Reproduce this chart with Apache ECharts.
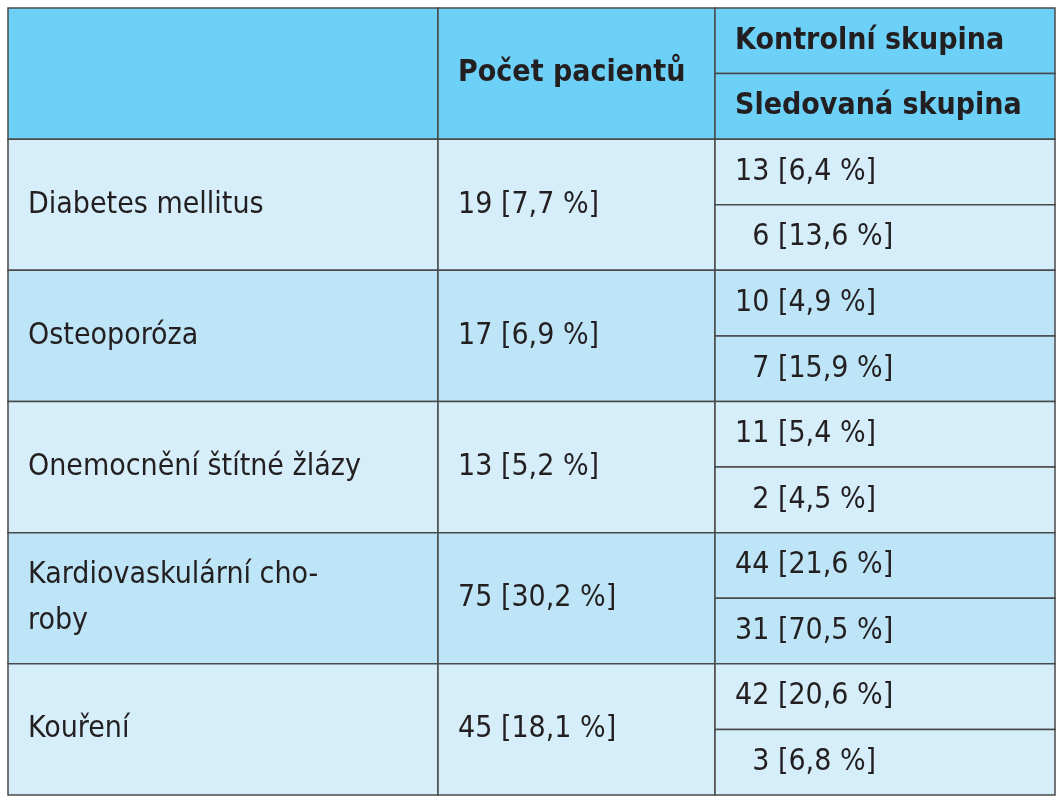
<!DOCTYPE html>
<html><head><meta charset="utf-8">
<script src="https://cdn.jsdelivr.net/npm/echarts@6/dist/echarts.min.js"></script>
<style>html,body{margin:0;padding:0;background:#fff}#c{width:1062px;height:800px}</style>
</head><body><div id="c"></div>
<script>
// Data
const headers = ["", "Počet pacientů", "Kontrolní skupina", "Sledovaná skupina"];
const categories = ["Diabetes mellitus", "Osteoporóza", "Onemocnění štítné žlázy", "Kardiovaskulární cho-\nroby", "Kouření"];
const totals = ["19 [7,7 %]", "17 [6,9 %]", "13 [5,2 %]", "75 [30,2 %]", "45 [18,1 %]"];
const control = ["13 [6,4 %]", "10 [4,9 %]", "11 [5,4 %]", "44 [21,6 %]", "42 [20,6 %]"];
const followed = ["\u20076 [13,6 %]", "\u20077 [15,9 %]", "\u20072 [4,5 %]", "31 [70,5 %]", "\u20073 [6,8 %]"];

// Layout (column edges in axis units, rows in half-row units)
const colEdges = [0, 430, 707, 1047];
const headerFill = "#6dd0f7";
const bodyFills = ["#d5eefa", "#bde5f7"];
const lineColor = "#4a4a4a";
const font = '"Liberation Sans Narrow","DejaVu Sans Condensed","Roboto",sans-serif';

const cells = []; // [c0, c1, r0, r1, text, fill, bold]
cells.push([0, 1, 0, 2, headers[0], headerFill, 1]);
cells.push([1, 2, 0, 2, headers[1], headerFill, 1]);
cells.push([2, 3, 0, 1, headers[2], headerFill, 1]);
cells.push([2, 3, 1, 2, headers[3], headerFill, 1]);
categories.forEach((c, i) => {
  const r = 2 + i * 2, f = bodyFills[i % 2];
  cells.push([0, 1, r, r + 2, c, f, 0]);
  cells.push([1, 2, r, r + 2, totals[i], f, 0]);
  cells.push([2, 3, r, r + 1, control[i], f, 0]);
  cells.push([2, 3, r + 1, r + 2, followed[i], f, 0]);
});

const chart = echarts.init(document.getElementById('c'), null, {renderer: 'canvas'});
chart.setOption({
  animation: false,
  grid: {left: 8, right: 7, top: 8, bottom: 5},
  xAxis: {type: 'value', min: 0, max: colEdges[3], show: false},
  yAxis: {type: 'value', min: 0, max: 12, inverse: true, show: false},
  series: [{
    type: 'custom',
    data: cells,
    renderItem: function (params, api) {
      const c0 = api.value(0), c1 = api.value(1), r0 = api.value(2), r1 = api.value(3);
      const d = cells[params.dataIndex];
      const p0 = api.coord([colEdges[c0], r0]);
      const p1 = api.coord([colEdges[c1], r1]);
      return {
        type: 'group',
        children: [
          {type: 'rect', shape: {x: p0[0], y: p0[1], width: p1[0] - p0[0], height: p1[1] - p0[1]},
           style: {fill: d[5], stroke: lineColor, lineWidth: 1.5}},
          {type: 'text', x: p0[0] + 20, y: (p0[1] + p1[1]) / 2,
           style: {text: d[4], fill: '#231f20', font: (d[6] ? 'bold ' : '') + '30px ' + font,
                   align: 'left', verticalAlign: 'middle', lineHeight: 46}}
        ]
      };
    }
  }]
});
</script></body></html>
